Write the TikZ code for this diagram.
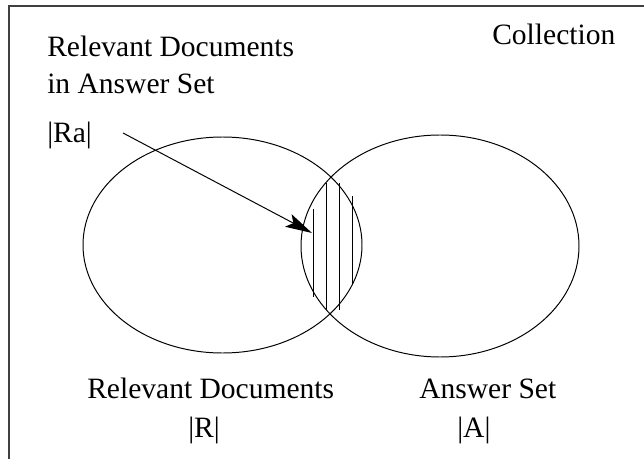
\documentclass[tikz,border=0pt]{standalone}
\usepackage{fontspec}
\setmainfont{Liberation Serif}
\usepackage{tikz}
\usetikzlibrary{arrows.meta,positioning}

\begin{document}
\begin{tikzpicture}[
    x=0.025cm, y=-0.025cm,
    lbl/.style={font=\fontsize{21}{26}\selectfont, inner sep=0pt, anchor=base west},
    setline/.style={line width=0.7pt},
    hatch/.style={line width=0.6pt},
    frame/.style={line width=1pt, draw=black!75},
    arrow/.style={-{Stealth[length=19pt,width=10pt,inset=4pt]}, line width=0.7pt}
]
\useasboundingbox (0,0) rectangle (644,459);

% Collection frame (open at right and bottom)
\draw[frame] (9,459) -- (9,6) -- (644,6);
\node[lbl] (coll) at (492,45) {Collection};

% The two sets
\coordinate (relc) at (222.5,245);
\coordinate (ansc) at (440,246);
\draw[setline] (relc) ellipse [x radius=139.5, y radius=108];
\draw[setline] (ansc) ellipse [x radius=139, y radius=111];

% Hatching of the intersection
\draw[hatch] (313,209) -- (313,297);
\draw[hatch] (326,183) -- (326,310);
\draw[hatch] (339,183) -- (339,310);
\draw[hatch] (352,196) -- (352,285);

% Top labels
\node[lbl] (ratitle) at (47,57) {Relevant Documents};
\node[lbl] (ratitleb) at (47,94) {in Answer Set};
\node[lbl] (ra) at (47,143) {|Ra|};

% Arrow into the intersection
\coordinate (ratail) at (123,133);
\coordinate (ratip) at (312,233);
\draw[arrow] (ratail) -- (ratip);

% Bottom labels
\node[lbl] (reltitle) at (87,398) {Relevant Documents};
\node[lbl] (rel) at (188,437) {|R|};
\node[lbl] (anstitle) at (419,398) {Answer Set};
\node[lbl] (ans) at (457,437) {|A|};

\end{tikzpicture}
\end{document}
